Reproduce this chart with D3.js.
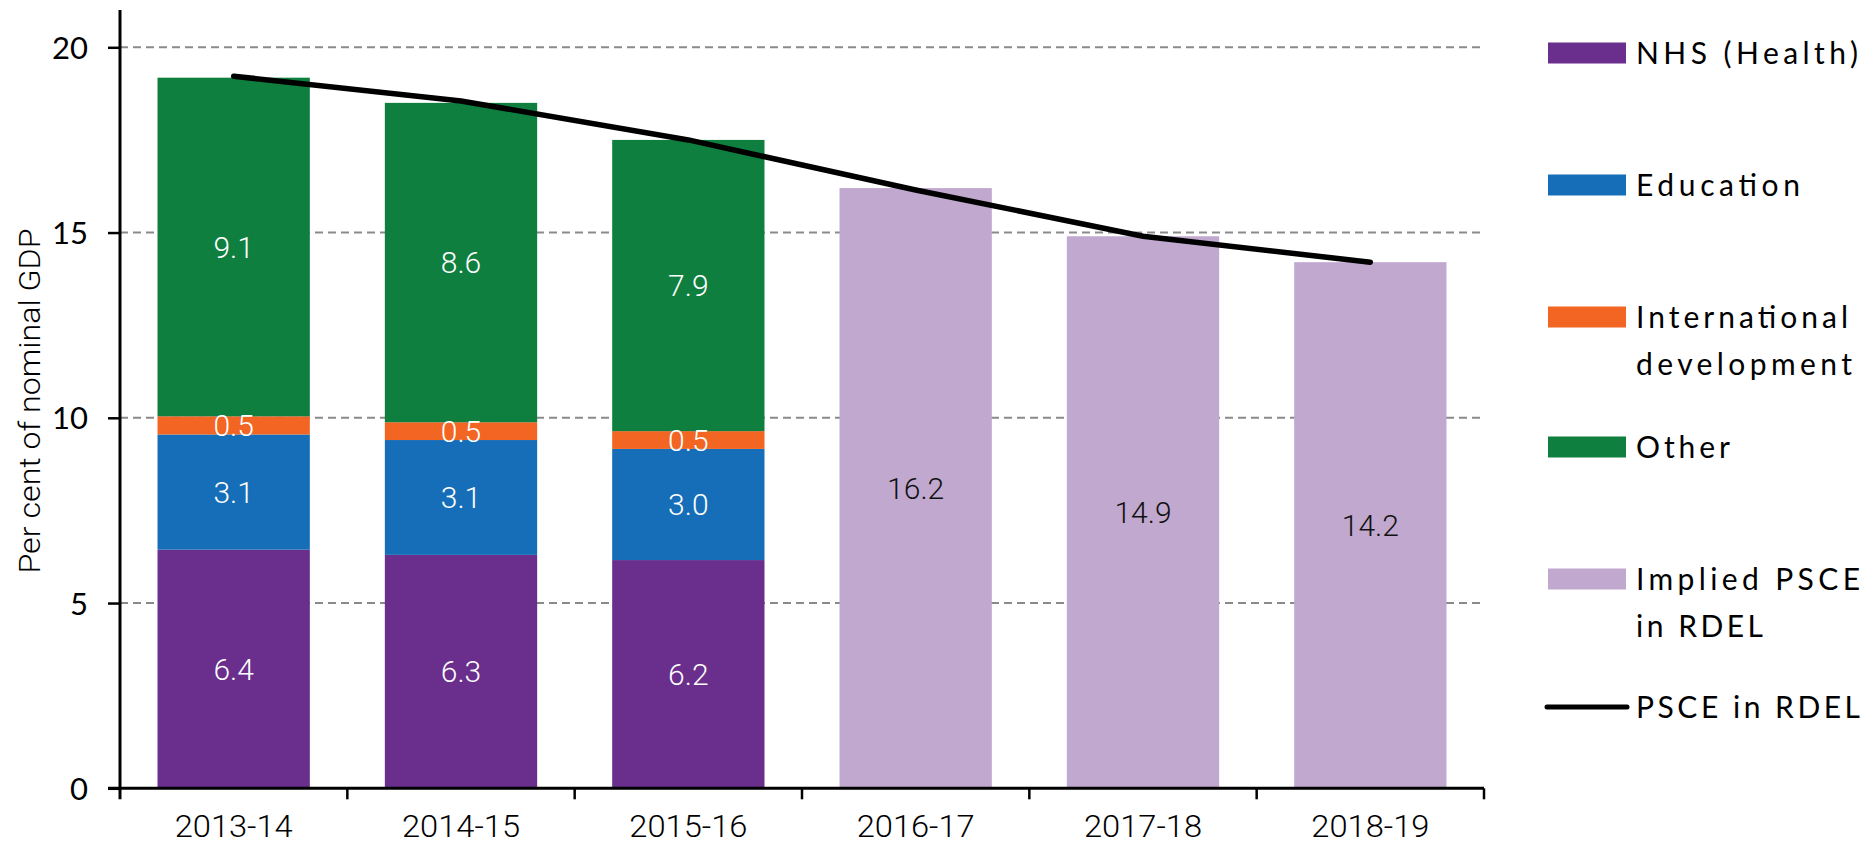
<!DOCTYPE html>
<html><head><meta charset="utf-8">
<script src="https://cdn.jsdelivr.net/npm/d3@7"></script>
<style>body{margin:0;background:#fff;} svg{display:block;}</style>
</head><body>
<svg id="chart" width="1873" height="846"></svg>
<script>
// ---- data ----
const years = ["2013-14","2014-15","2015-16","2016-17","2017-18","2018-19"];
const nhs = [6.44, 6.30, 6.16, null, null, null];
const education = [3.11, 3.10, 3.00, null, null, null];
const intlDev = [0.49, 0.48, 0.48, null, null, null];
const other = [9.14, 8.62, 7.86, null, null, null];
const impliedPSCE = [null, null, null, 16.2, 14.9, 14.2];
const psceLine = [19.22, 18.55, 17.5, 16.15, 14.9, 14.2];
const yTicks = [0, 5, 10, 15, 20];
const seriesNames = ["NHS (Health)", "Education", "International development", "Other", "Implied PSCE in RDEL", "PSCE in RDEL"];

// ---- styles ----
const colors = {"NHS (Health)":"#6a2e8c","Education":"#176eb8","International development":"#f26522","Other":"#0e7f3f","Implied PSCE in RDEL":"#c1a8cf"};
const svg = d3.select("#chart");
const m = {left:120, right:1484, top:47.3, bottom:788.3};

const x = d3.scaleBand().domain(years).range([m.left, m.right]).paddingInner(0.33).paddingOuter(0.165);
const y = d3.scaleLinear().domain([0,20]).range([m.bottom, m.top]);

// gridlines
svg.append("g").selectAll("line").data(yTicks.filter(d=>d>0)).join("line")
  .attr("x1", m.left).attr("x2", m.right).attr("y1", d=>y(d)).attr("y2", d=>y(d))
  .attr("stroke","#8a8a8a").attr("stroke-width",2).attr("stroke-dasharray","8,5");

// stacked bars
const stackKeys = ["NHS (Health)","Education","International development","Other"];
const stackVals = [nhs, education, intlDev, other];
const rows = years.map((yr,i)=>{const r={year:yr}; stackKeys.forEach((k,j)=>r[k]=stackVals[j][i]||0); return r;});
const stacked = d3.stack().keys(stackKeys)(rows.slice(0,3));
const fmt = d3.format(".1f");
const barG = svg.append("g");
stacked.forEach(layer=>{
  barG.selectAll(null).data(layer).join("rect")
    .attr("x", d=>x(d.data.year)).attr("width", x.bandwidth())
    .attr("y", d=>y(d[1])).attr("height", d=>y(d[0])-y(d[1]))
    .attr("fill", colors[layer.key]);
});
const implied = years.map((yr,i)=>({year:yr,v:impliedPSCE[i]})).filter(d=>d.v!=null);
barG.selectAll(null).data(implied).join("rect")
  .attr("x", d=>x(d.year)).attr("width", x.bandwidth())
  .attr("y", d=>y(d.v)).attr("height", d=>y(0)-y(d.v))
  .attr("fill", colors["Implied PSCE in RDEL"]);

// labels
const labelFont = "Roboto, 'Open Sans', sans-serif";
stacked.forEach(layer=>{
  svg.append("g").selectAll("text").data(layer).join("text")
    .attr("x", d=>x(d.data.year)+x.bandwidth()/2)
    .attr("y", d=>(y(d[0])+y(d[1]))/2)
    .attr("dy","0.36em").attr("text-anchor","middle")
    .attr("font-family",labelFont).attr("font-size",30).attr("font-weight",300)
    .attr("fill","#fff").text(d=>fmt(d[1]-d[0]));
});
svg.append("g").selectAll("text").data(implied).join("text")
  .attr("x", d=>x(d.year)+x.bandwidth()/2).attr("y", d=>(y(d.v)+y(0))/2)
  .attr("dy","0.36em").attr("text-anchor","middle")
  .attr("font-family",labelFont).attr("font-size",30).attr("font-weight",300)
  .attr("fill","#111").text(d=>fmt(d.v));

// line
const lineData = years.map((yr,i)=>({year:yr,v:psceLine[i]}));
svg.append("path").datum(lineData)
  .attr("d", d3.line().x(d=>x(d.year)+x.bandwidth()/2).y(d=>y(d.v)))
  .attr("fill","none").attr("stroke","#000").attr("stroke-width",5.5).attr("stroke-linecap","round");

// axes
const condensed = "Roboto, 'Open Sans', sans-serif";
const yAxis = svg.append("g").attr("transform",`translate(${m.left},0)`)
  .call(d3.axisLeft(y).tickValues(yTicks).tickSize(12).tickPadding(20).tickFormat(d3.format("d")));
yAxis.select(".domain").remove();
yAxis.selectAll(".tick line").attr("stroke","#000").attr("stroke-width",2.5);
yAxis.selectAll("text").attr("font-family","Lato, 'Noto Sans', sans-serif").attr("font-size",31).attr("fill","#000").attr("dy","0.36em");
svg.append("line").attr("x1",m.left).attr("x2",m.left).attr("y1",10).attr("y2",m.bottom+11)
  .attr("stroke","#000").attr("stroke-width",3);

const xAxis = svg.append("g").attr("transform",`translate(0,${m.bottom})`)
  .call(d3.axisBottom(x).tickSize(0).tickPadding(0));
xAxis.select(".domain").remove();
xAxis.selectAll("text").attr("font-family",condensed).attr("font-size",32).attr("font-weight",300).attr("fill","#000")
  .attr("dy",0).attr("y",49).attr("textLength",118).attr("lengthAdjust","spacingAndGlyphs");
svg.append("line").attr("x1",m.left-12).attr("x2",m.right).attr("y1",m.bottom).attr("y2",m.bottom)
  .attr("stroke","#000").attr("stroke-width",3);
const bounds = years.map(yr=>x(yr)-x.step()*x.paddingInner()/2).slice(1).concat([m.right]);
svg.append("g").selectAll("line").data(bounds).join("line")
  .attr("x1",d=>d).attr("x2",d=>d).attr("y1",m.bottom).attr("y2",m.bottom+11)
  .attr("stroke","#000").attr("stroke-width",2.5);

// y axis title
svg.append("text").attr("transform","translate(40,401) rotate(-90)")
  .attr("text-anchor","middle").attr("font-family",condensed).attr("font-size",29).attr("font-weight",300)
  .attr("textLength",345).attr("lengthAdjust","spacingAndGlyphs")
  .text("Per cent of nominal GDP");

// legend
const legendFont = "Lato, 'Noto Sans', sans-serif";
const legendItems = [
  {name:seriesNames[0], lines:["NHS (Health)"], cy:53, widths:[222]},
  {name:seriesNames[1], lines:["Education"], cy:185, widths:[164]},
  {name:seriesNames[2], lines:["International","development"], cy:317, widths:[212,216]},
  {name:seriesNames[3], lines:["Other"], cy:447, widths:[94]},
  {name:seriesNames[4], lines:["Implied PSCE","in RDEL"], cy:579, widths:[224,127]},
  {name:seriesNames[5], lines:["PSCE in RDEL"], cy:707, widths:[224], isLine:true}
];
const lg = svg.append("g");
legendItems.forEach(it=>{
  if(it.isLine){
    lg.append("line").attr("x1",1547).attr("x2",1627).attr("y1",it.cy).attr("y2",it.cy)
      .attr("stroke","#000").attr("stroke-width",5).attr("stroke-linecap","round");
  } else {
    lg.append("rect").attr("x",1548).attr("y",it.cy-10.5).attr("width",78).attr("height",21)
      .attr("fill",colors[it.name]);
  }
  it.lines.forEach((t,i)=>{
    lg.append("text").attr("x",1636).attr("y",it.cy+i*47).attr("dy","0.36em")
      .attr("font-family",legendFont).attr("font-size",30).attr("fill","#000")
      .attr("textLength",it.widths[i]).attr("lengthAdjust","spacing").text(t);
  });
});
</script>
</body></html>
